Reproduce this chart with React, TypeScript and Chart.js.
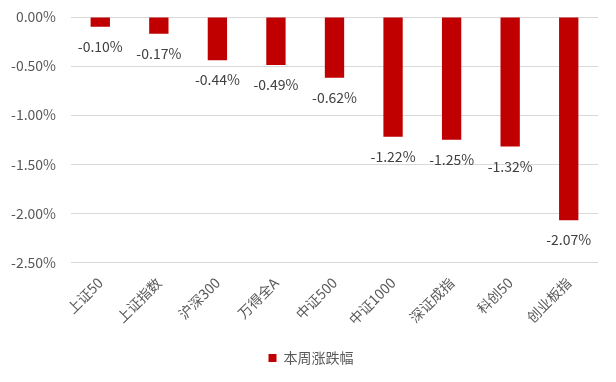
import React, { useEffect, useRef } from "react";
import { Chart, registerables } from "chart.js";

Chart.register(...registerables);

const categories = ["上证50", "上证指数", "沪深300", "万得全A", "中证500", "中证1000", "深证成指", "科创50", "创业板指"];
const weeklyChange = [-0.10, -0.17, -0.44, -0.49, -0.62, -1.22, -1.25, -1.32, -2.07];
const seriesName = "本周涨跌幅";
const yMin = -2.5;
const yMax = 0;
const yStep = 0.5;

const FONT = '"Noto Sans CJK SC", "Noto Sans", sans-serif';

const labelPlugin = {
  id: "barLabels",
  afterLayout(chart: any) {
    const lg = chart.legend;
    if (lg) {
      lg.left += 12;
      lg.right += 12;
      lg.top += 3;
      lg.bottom += 3;
    }
  },
  afterDatasetsDraw(chart: any) {
    const ctx = chart.ctx;
    const meta = chart.getDatasetMeta(0);
    const data = chart.data.datasets[0].data as number[];
    ctx.save();
    ctx.font = `14px ${FONT}`;
    ctx.fillStyle = "#404040";
    ctx.textAlign = "center";
    ctx.textBaseline = "middle";
    meta.data.forEach((el: any, i: number) => {
      ctx.fillText(data[i].toFixed(2) + "%", el.x, el.y + 20);
    });
    ctx.restore();
  },
};

export default function App() {
  const ref = useRef<HTMLCanvasElement | null>(null);
  useEffect(() => {
    if (!ref.current) return;
    const chart = new Chart(ref.current, {
      type: "bar",
      data: {
        labels: categories,
        datasets: [
          {
            label: seriesName,
            data: weeklyChange,
            backgroundColor: "#C00000",
            borderWidth: 0,
            barPercentage: 0.33,
            categoryPercentage: 1,
          },
        ],
      },
      options: {
        animation: false,
        responsive: true,
        maintainAspectRatio: false,
        layout: { padding: { left: 0, right: 18, top: 17, bottom: 10 } },
        plugins: {
          legend: {
            position: "bottom",
            labels: {
              boxWidth: 8,
              boxHeight: 8,
              color: "#595959",
              font: { family: FONT, size: 14 },
              padding: 8,
            },
          },
          tooltip: { enabled: false },
        },
        scales: {
          x: {
            grid: { display: false, drawTicks: false },
            border: { display: false },
            afterFit: (s: any) => {
              s.paddingTop = 0;
            },
            ticks: {
              color: "#595959",
              font: { family: FONT, size: 14 },
              minRotation: 45,
              maxRotation: 45,
              padding: 12,
            },
          },
          y: {
            min: yMin,
            max: yMax,
            grid: { color: "#d9d9d9", lineWidth: 1, drawTicks: false },
            border: { display: false },
            afterFit: (s: any) => {
              s.paddingTop = 0;
              s.paddingBottom = 0;
              s.width = 71;
            },
            ticks: {
              stepSize: yStep,
              color: "#595959",
              font: { family: FONT, size: 14 },
              padding: 15,
              callback: (v: any) => Number(v).toFixed(2) + "%",
            },
          },
        },
      },
      plugins: [labelPlugin],
    });
    return () => chart.destroy();
  }, []);
  return (
    <div style={{ position: "fixed", left: 0, top: 0, width: 616, height: 382, background: "#fff" }}>
      <canvas ref={ref} />
    </div>
  );
}
